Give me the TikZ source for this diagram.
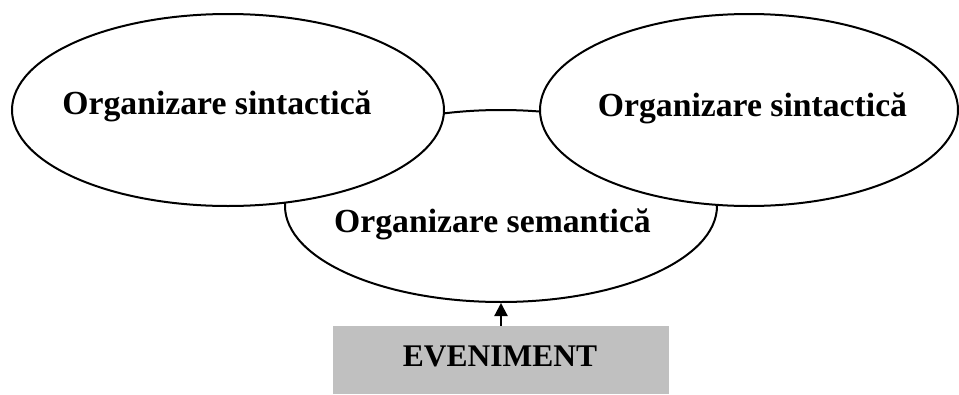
\documentclass[tikz,border=0pt]{standalone}
\usepackage{fontspec}
\setmainfont{Liberation Serif}
\usetikzlibrary{shapes.geometric,arrows.meta}
\definecolor{boxgray}{RGB}{192,192,192}
\tikzset{
  oval/.style={ellipse, draw=black, line width=2pt, fill=white, inner sep=0pt},
  ovaltext/.style={anchor=base, inner sep=0pt, font=\bfseries\fontsize{33.7}{40}\selectfont},
  boxtext/.style={anchor=base, inner sep=0pt, font=\bfseries\fontsize{31.5}{38}\selectfont},
  evbox/.style={rectangle, fill=boxgray, draw=none, inner sep=0pt, minimum width=336pt, minimum height=68pt},
  arr/.style={-{Triangle[length=13pt,width=13pt]}, line width=2.2pt}
}
\begin{document}
\begin{tikzpicture}[x=1pt,y=1pt]
\useasboundingbox (0,0) rectangle (959,-394);
\fill[white] (0,0) rectangle (959,-394);
% middle ellipse first (partly hidden)
\node[oval, minimum width=432pt, minimum height=192pt] (mid) at (501,-206) {};
% top ellipses on top
\node[oval, minimum width=432pt, minimum height=192pt] (left) at (228,-110) {};
\node[oval, minimum width=418pt, minimum height=192pt] (right) at (749,-110) {};
% texts
\node[ovaltext] (lt) at (217,-114) {Organizare sintactică};
\node[ovaltext] (rt) at (752.5,-116) {Organizare sintactică};
\node[ovaltext] (mt) at (492.5,-232) {Organizare semantică};
% event box
\node[evbox] (ev) at (501,-360) {};
\node[boxtext] (evt) at (500,-366) {EVENIMENT};
\draw[arr] (ev.north) -- (mid.south);
\end{tikzpicture}
\end{document}
